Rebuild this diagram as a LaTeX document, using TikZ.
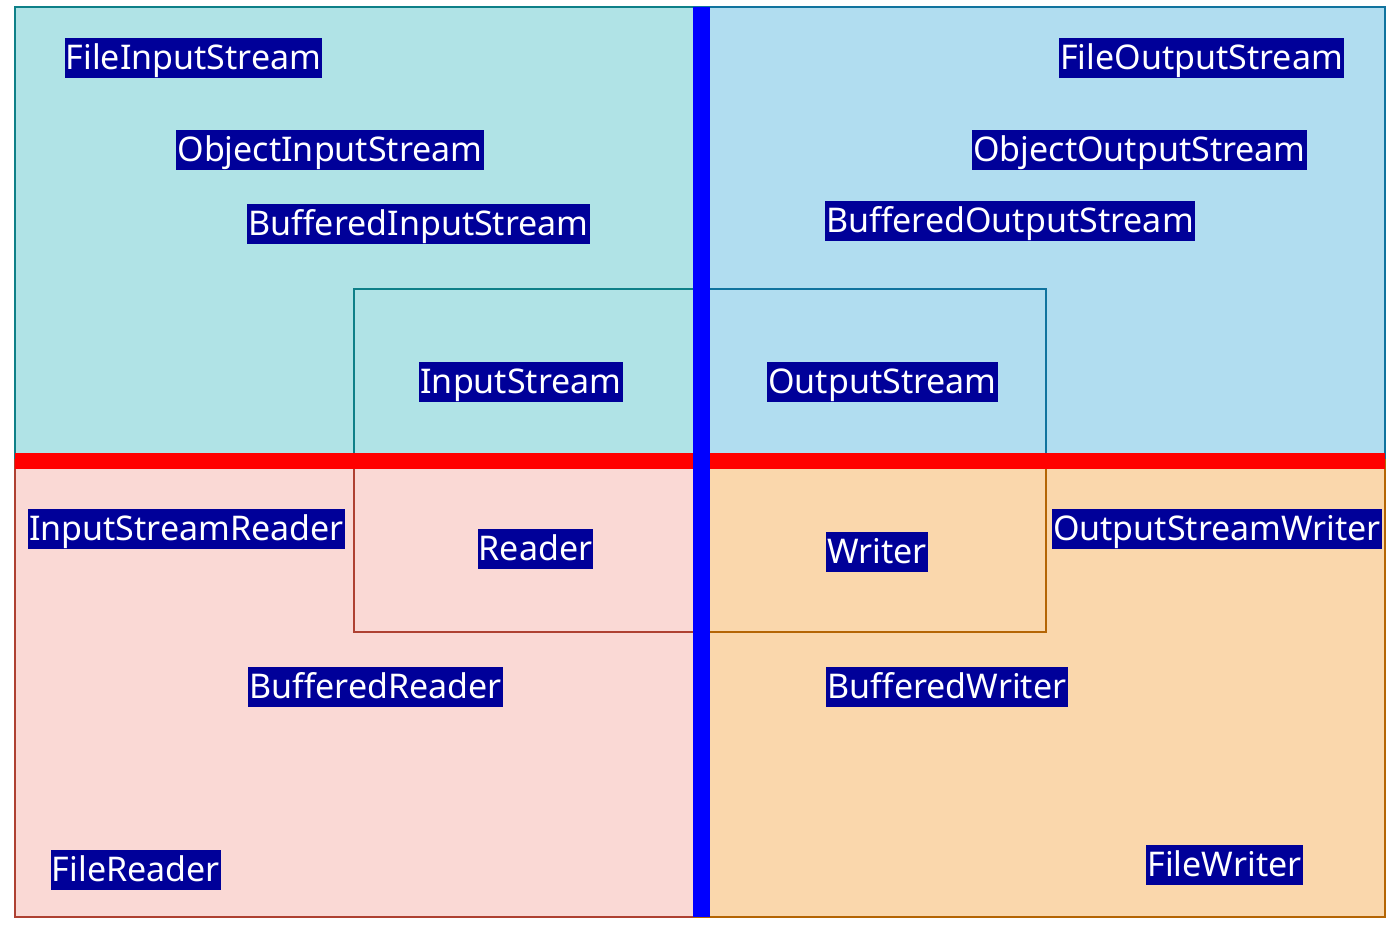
\documentclass[tikz,border=0pt]{standalone}
\usepackage{fontspec}
\setmainfont{Noto Sans}
\definecolor{tlfill}{HTML}{B0E3E6}\definecolor{tlline}{HTML}{0E8088}
\definecolor{trfill}{HTML}{B1DDF0}\definecolor{trline}{HTML}{10739E}
\definecolor{blfill}{HTML}{FAD9D5}\definecolor{blline}{HTML}{AE4132}
\definecolor{brfill}{HTML}{FAD7AC}\definecolor{brline}{HTML}{B46504}
\definecolor{lblbg}{HTML}{000099}
\begin{document}
\begin{tikzpicture}[x=0.5pt,y=-0.5pt,
  lbl/.style={fill=lblbg,text=white,inner xsep=0.6pt,inner ysep=3.65pt,text height=12.14pt,text depth=0.56pt,font=\fontsize{17}{20}\selectfont},
  quad/.style={line width=1pt},
  inner/.style={line width=0.8pt}]
\useasboundingbox (0,0) rectangle (1400,927);
% quadrants
\draw[quad,fill=tlfill,draw=tlline] (15,7) rectangle (694,460);
\draw[quad,fill=trfill,draw=trline] (694,7) rectangle (1385,460);
\draw[quad,fill=blfill,draw=blline] (15,460) rectangle (694,917);
\draw[quad,fill=brfill,draw=brline] (694,460) rectangle (1385,917);
% inner rectangles
\draw[inner,draw=tlline] (354,460) -- (354,289) -- (694,289);
\draw[inner,draw=trline] (710,289) -- (1046,289) -- (1046,460);
\draw[inner,draw=blline] (354,460) -- (354,632) -- (694,632);
\draw[inner,draw=brline] (710,632) -- (1046,632) -- (1046,460);
% bars
\fill[red] (15,453) rectangle (1385,469);
\fill[blue] (693,7) rectangle (710,917);
% labels
\node[lbl] (fis) at (193.5,57.5) {FileInputStream};
\node[lbl] (ois) at (330,149.5) {ObjectInputStream};
\node[lbl] (bis) at (418.5,223.5) {BufferedInputStream};
\node[lbl] (is) at (521,382) {InputStream};
\node[lbl] (fos) at (1201.5,57.5) {FileOutputStream};
\node[lbl] (oos) at (1139.5,149.5) {ObjectOutputStream};
\node[lbl] (bos) at (1010,220.5) {BufferedOutputStream};
\node[lbl] (os) at (882.5,382) {OutputStream};
\node[lbl] (isr) at (186.5,528.5) {InputStreamReader};
\node[lbl] (rd) at (535.5,548.5) {Reader};
\node[lbl] (wr) at (877,551.5) {Writer};
\node[lbl] (osw) at (1217,528.5) {OutputStreamWriter};
\node[lbl] (br) at (375.5,686.5) {BufferedReader};
\node[lbl] (bw) at (947,686.5) {BufferedWriter};
\node[lbl] (fr) at (135.8,870.3) {FileReader};
\node[lbl] (fw) at (1224.5,864.7) {FileWriter};
\end{tikzpicture}
\end{document}
